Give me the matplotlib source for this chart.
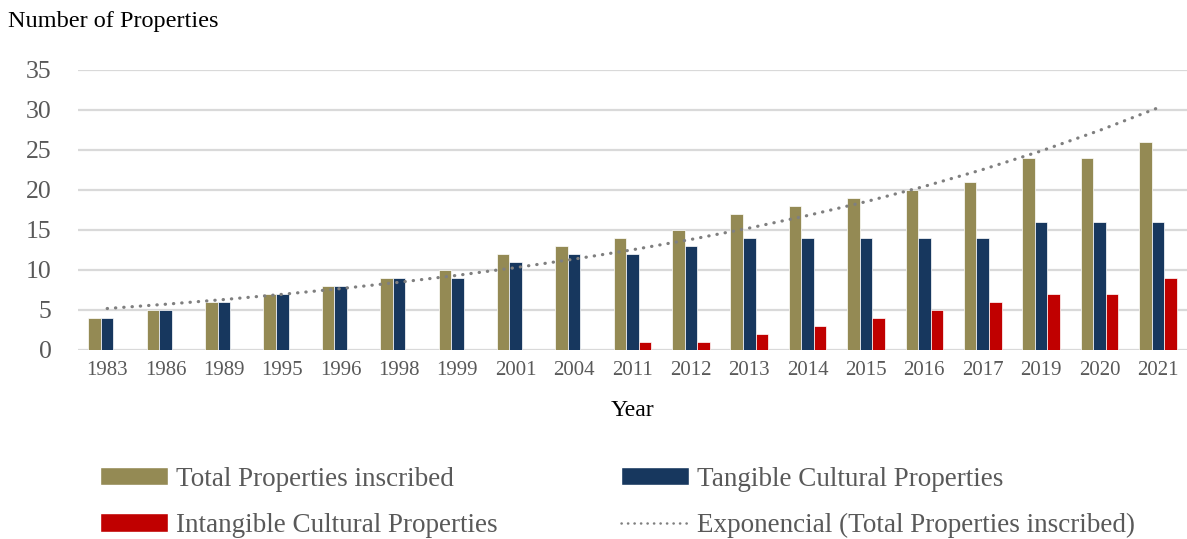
import numpy as np
import matplotlib
matplotlib.use("Agg")
import matplotlib.pyplot as plt
from matplotlib.patches import Patch
from matplotlib.lines import Line2D

plt.rcParams['font.family'] = ['Liberation Serif', 'DejaVu Serif']

years = ["1983", "1986", "1989", "1995", "1996", "1998", "1999", "2001", "2004", "2011",
         "2012", "2013", "2014", "2015", "2016", "2017", "2019", "2020", "2021"]
total = [4, 5, 6, 7, 8, 9, 10, 12, 13, 14, 15, 17, 18, 19, 20, 21, 24, 24, 26]
tangible = [4, 5, 6, 7, 8, 9, 9, 11, 12, 12, 13, 14, 14, 14, 14, 14, 16, 16, 16]
intangible = [0, 0, 0, 0, 0, 0, 0, 0, 0, 1, 1, 2, 3, 4, 5, 6, 7, 7, 9]

c_total = "#948A54"
c_tang = "#17375E"
c_intang = "#C00000"
c_trend = "#7F7F7F"
c_text = "#595959"

W, H = 1187, 539
fig = plt.figure(figsize=(W / 100, H / 100), dpi=100)
ax = fig.add_axes([78 / W, 189 / H, 1 - 78 / W, 280 / H])

x = np.arange(len(years))
bw = 0.215
ax.bar(x - bw, total, bw, color=c_total, edgecolor="white", linewidth=0.5, zorder=3)
ax.bar(x, tangible, bw, color=c_tang, edgecolor="white", linewidth=0.5, zorder=3)
ax.bar(x + bw, intangible, bw, color=c_intang, edgecolor="white", linewidth=0.5, zorder=3)

# Exponential trendline (least squares fit on log of totals, like Excel)
xi = x + 1
b, a = np.polyfit(xi, np.log(total), 1)
trend = np.exp(a + b * xi)
dot = (0, (0.1, 2.5))
ax.plot(x, trend, color=c_trend, linestyle=dot, linewidth=2.3,
        dash_capstyle="round", zorder=4)

ax.set_xlim(-0.5, len(years) - 0.5)
ax.set_ylim(0, 35)
ax.set_yticks(range(0, 36, 5))
ax.set_xticks(x)
ax.set_xticklabels(years)
ax.tick_params(axis="y", length=0, pad=19, labelsize=18.5, labelcolor=c_text)
ax.tick_params(axis="x", length=0, pad=8, labelsize=15, labelcolor=c_text)
for s in ax.spines.values():
    s.set_visible(False)
ax.yaxis.grid(True, color="#D9D9D9", linewidth=1.6, zorder=0)
ax.set_axisbelow(True)

fig.text(8 / W, 1 - 11 / H, "Number of Properties", fontsize=17.5, color="black",
         ha="left", va="top")
ax.set_xlabel("Year", fontsize=17, color="black", labelpad=14)

handles = [
    Patch(facecolor=c_total, edgecolor="white"),
    Patch(facecolor=c_intang, edgecolor="white"),
    Patch(facecolor=c_tang, edgecolor="white"),
    Line2D([0], [0], color=c_trend, linestyle=dot, linewidth=1.8,
           dash_capstyle="round"),
]
labels = ["Total Properties inscribed", "Intangible Cultural Properties",
          "Tangible Cultural Properties", "Exponencial (Total Properties inscribed)"]
leg = fig.legend(handles, labels, ncol=2, loc="center left",
                 bbox_to_anchor=(100 / W, 36.5 / H), frameon=False, borderpad=0,
                 borderaxespad=0, fontsize=19.5, handlelength=2.5, handleheight=0.68,
                 handletextpad=0.3, labelspacing=0.8, columnspacing=4.57)
for t in leg.get_texts():
    t.set_color(c_text)

fig.savefig("out.png", dpi=100)
